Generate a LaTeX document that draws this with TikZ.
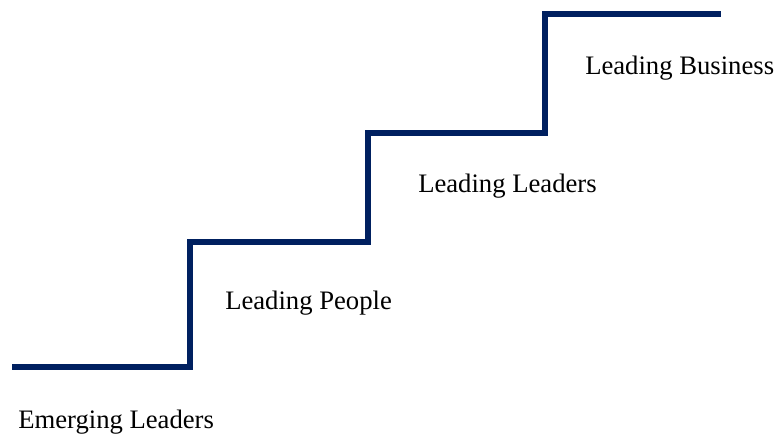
\documentclass[tikz,border=0pt]{standalone}
\usepackage{fontspec}
\setmainfont{Liberation Serif}
\usepackage[dvipsnames]{xcolor}
\definecolor{stairblue}{RGB}{0,32,96}

\begin{document}
\begin{tikzpicture}[x=0.75pt,y=0.75pt,yscale=-1,xscale=1]
            \useasboundingbox (0,0) rectangle (776,434);
            % Stairs
            \draw [color=stairblue, line width=3.9pt, line join=miter]  (12,367) -- (190,367) -- (190,242) -- (368,242) -- (368,133) -- (545,133) -- (545,14) -- (721,14) ;
            % Text Node
            \draw (18,429) node (emerging) [anchor=base west][inner sep=0pt] [font=\fontsize{20}{24}\selectfont] {Emerging Leaders};
            % Text Node
            \draw (225,310) node (people) [anchor=base west][inner sep=0pt] [font=\fontsize{20}{24}\selectfont] {Leading People};
            % Text Node
            \draw (418,193) node (leaders) [anchor=base west][inner sep=0pt] [font=\fontsize{20}{24}\selectfont] {Leading Leaders};
            % Text Node
            \draw (585,75) node (business) [anchor=base west][inner sep=0pt] [font=\fontsize{20}{24}\selectfont] {Leading Business};
        \end{tikzpicture}
\end{document}
